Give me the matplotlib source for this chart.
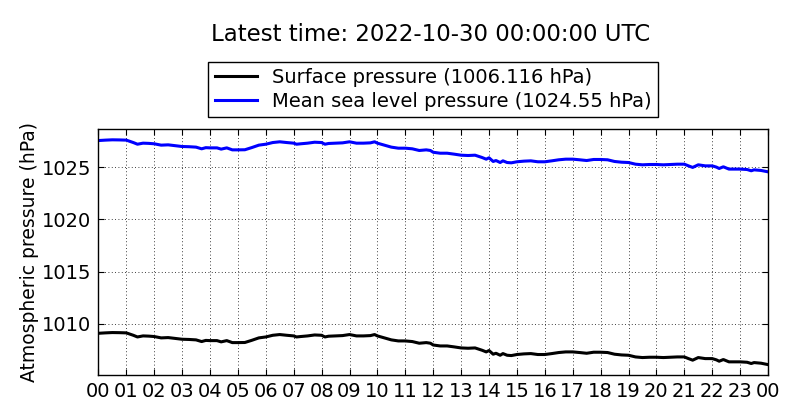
import matplotlib
matplotlib.use("Agg")
import matplotlib.pyplot as plt

hours = [0.00, 0.25, 0.50, 0.75, 1.00, 1.25, 1.40, 1.60, 1.80, 2.00, 2.25, 2.50, 2.75,
         3.00, 3.25, 3.50, 3.70, 3.85, 4.00, 4.25, 4.40, 4.60, 4.80, 5.00, 5.25, 5.50,
         5.75, 6.00, 6.25, 6.50, 6.75, 7.00, 7.10, 7.25, 7.50, 7.75, 8.00, 8.12, 8.25,
         8.50, 8.75, 9.00, 9.25, 9.50, 9.75, 9.90, 10.00, 10.25, 10.50, 10.75, 11.00,
         11.25, 11.50, 11.75, 11.90, 12.00, 12.25, 12.50, 12.75, 13.00, 13.25, 13.50,
         13.75, 13.90, 14.00, 14.15, 14.25, 14.40, 14.50, 14.65, 14.80, 15.00, 15.25,
         15.50, 15.75, 16.00, 16.25, 16.50, 16.75, 17.00, 17.25, 17.50, 17.75, 18.00,
         18.25, 18.50, 18.75, 19.00, 19.25, 19.50, 19.75, 20.00, 20.25, 20.50, 20.75,
         21.00, 21.15, 21.30, 21.50, 21.75, 22.00, 22.15, 22.25, 22.40, 22.60, 22.75,
         23.00, 23.25, 23.40, 23.50, 23.75, 24.00]

msl_pressure = [1027.54, 1027.58, 1027.61, 1027.60, 1027.58, 1027.35, 1027.19, 1027.29,
                1027.27, 1027.23, 1027.10, 1027.13, 1027.05, 1026.97, 1026.95, 1026.91,
                1026.75, 1026.86, 1026.84, 1026.84, 1026.72, 1026.84, 1026.65, 1026.65,
                1026.66, 1026.87, 1027.10, 1027.19, 1027.35, 1027.42, 1027.35, 1027.29,
                1027.19, 1027.23, 1027.29, 1027.38, 1027.35, 1027.19, 1027.26, 1027.29,
                1027.32, 1027.42, 1027.29, 1027.29, 1027.32, 1027.42, 1027.29, 1027.10,
                1026.91, 1026.81, 1026.81, 1026.75, 1026.59, 1026.65, 1026.59, 1026.42,
                1026.33, 1026.33, 1026.24, 1026.14, 1026.11, 1026.14, 1025.92, 1025.76,
                1025.89, 1025.54, 1025.63, 1025.44, 1025.60, 1025.44, 1025.41, 1025.51,
                1025.57, 1025.60, 1025.51, 1025.51, 1025.60, 1025.70, 1025.76, 1025.76,
                1025.70, 1025.63, 1025.73, 1025.73, 1025.70, 1025.54, 1025.47, 1025.44,
                1025.28, 1025.22, 1025.25, 1025.25, 1025.22, 1025.25, 1025.28, 1025.28,
                1025.12, 1024.97, 1025.22, 1025.12, 1025.12, 1025.00, 1024.87, 1025.03,
                1024.81, 1024.81, 1024.81, 1024.77, 1024.65, 1024.74, 1024.68, 1024.55]

surface_pressure = [1009.11, 1009.15, 1009.18, 1009.17, 1009.15, 1008.92, 1008.76, 1008.86,
                    1008.84, 1008.80, 1008.67, 1008.70, 1008.62, 1008.54, 1008.52, 1008.48,
                    1008.32, 1008.43, 1008.41, 1008.41, 1008.29, 1008.41, 1008.22, 1008.22,
                    1008.23, 1008.44, 1008.67, 1008.76, 1008.92, 1008.99, 1008.92, 1008.86,
                    1008.76, 1008.80, 1008.86, 1008.95, 1008.92, 1008.76, 1008.83, 1008.86,
                    1008.89, 1008.99, 1008.86, 1008.86, 1008.89, 1008.99, 1008.86, 1008.67,
                    1008.48, 1008.38, 1008.38, 1008.32, 1008.16, 1008.22, 1008.16, 1007.99,
                    1007.90, 1007.90, 1007.81, 1007.71, 1007.68, 1007.71, 1007.49, 1007.33,
                    1007.46, 1007.11, 1007.20, 1007.01, 1007.17, 1007.01, 1006.98, 1007.08,
                    1007.14, 1007.17, 1007.08, 1007.08, 1007.17, 1007.27, 1007.33, 1007.33,
                    1007.27, 1007.20, 1007.30, 1007.30, 1007.27, 1007.11, 1007.04, 1007.01,
                    1006.85, 1006.79, 1006.82, 1006.82, 1006.79, 1006.82, 1006.85, 1006.85,
                    1006.69, 1006.54, 1006.79, 1006.69, 1006.69, 1006.57, 1006.44, 1006.60,
                    1006.38, 1006.38, 1006.38, 1006.34, 1006.22, 1006.31, 1006.25, 1006.116]

tick_hours = list(range(25))
tick_labels = ["%02d" % (h % 24) for h in tick_hours]
title = "Latest time: 2022-10-30 00:00:00 UTC"
surface_label = "Surface pressure (1006.116 hPa)"
msl_label = "Mean sea level pressure (1024.55 hPa)"

plt.rcParams['font.family'] = ['DejaVu Sans']
fig = plt.figure(figsize=(8, 4.2), dpi=100)
ax = fig.add_axes([0.123, 0.107, 0.837, 0.585])

ax.plot(hours, surface_pressure, color='black', lw=2.2, label=surface_label)
ax.plot(hours, msl_pressure, color='blue', lw=2.2, label=msl_label)

ax.set_xlim(0, 24)
ax.set_ylim(min(surface_pressure) - 1, max(msl_pressure) + 1)
ax.set_xticks(tick_hours)
ax.set_xticklabels(tick_labels)
ax.set_yticks([1010, 1015, 1020, 1025])
ax.tick_params(direction='in', top=True, right=True, labelsize=14, length=4, pad=5)
ax.grid(True, color='black', linestyle=(0, (1, 3)), linewidth=0.6)
ax.set_ylabel("Atmospheric pressure (hPa)", fontsize=13.5, labelpad=2)
for s in ax.spines.values():
    s.set_linewidth(1)

leg = ax.legend(loc='lower center', bbox_to_anchor=(0.5, 1.05), borderaxespad=0,
                fontsize=14, fancybox=False, framealpha=1, edgecolor='black',
                handlelength=2.2, handletextpad=0.75, borderpad=0.32, labelspacing=0.25)
leg.get_frame().set_linewidth(1)

fig.text(0.538, 0.917, title, ha='center', va='center', fontsize=16.5)

fig.savefig("out.png", dpi=100)
